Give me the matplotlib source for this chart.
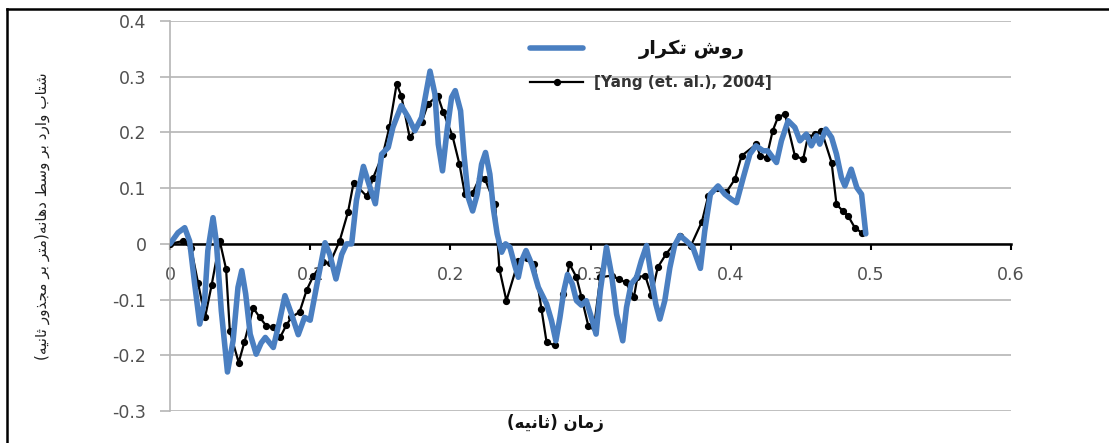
import numpy as np
import matplotlib
matplotlib.use('Agg')
import matplotlib.pyplot as plt
from matplotlib.lines import Line2D

# time (s) and mid-span acceleration
t_yang = [0.000, 0.009, 0.015, 0.020, 0.025, 0.0297, 0.0355, 0.040, 0.0427, 0.049,
          0.053, 0.0594, 0.064, 0.0687, 0.0735, 0.0785, 0.083, 0.0866, 0.0925, 0.0975,
          0.1022, 0.109, 0.114, 0.121, 0.127, 0.131, 0.1405, 0.145, 0.152, 0.1565,
          0.1617, 0.165, 0.171, 0.1795, 0.184, 0.191, 0.195, 0.2015, 0.2065, 0.2104,
          0.216, 0.221, 0.2247, 0.232, 0.235, 0.240, 0.2485, 0.2544, 0.260, 0.265,
          0.2687, 0.2746, 0.2806, 0.285, 0.290, 0.2935, 0.2985, 0.3025, 0.307, 0.315,
          0.320, 0.325, 0.331, 0.3335, 0.339, 0.3435, 0.348, 0.354, 0.364, 0.3715,
          0.3795, 0.384, 0.390, 0.397, 0.403, 0.4078, 0.4184, 0.421, 0.4256, 0.430,
          0.4337, 0.4387, 0.4458, 0.4517, 0.455, 0.460, 0.4648, 0.472, 0.4755, 0.480,
          0.4838, 0.4886, 0.4934]
a_yang = [0.000, 0.005, -0.007, -0.070, -0.132, -0.074, 0.005, -0.045, -0.157, -0.213,
          -0.177, -0.115, -0.132, -0.147, -0.150, -0.168, -0.146, -0.132, -0.122, -0.083,
          -0.058, -0.033, -0.035, 0.005, 0.057, 0.110, 0.085, 0.119, 0.162, 0.209,
          0.287, 0.266, 0.191, 0.218, 0.251, 0.266, 0.236, 0.194, 0.143, 0.089,
          0.092, 0.119, 0.116, 0.071, -0.045, -0.102, -0.031, -0.025, -0.036, -0.117,
          -0.177, -0.182, -0.090, -0.036, -0.060, -0.095, -0.148, -0.150, -0.060, -0.057,
          -0.063, -0.069, -0.095, -0.060, -0.057, -0.092, -0.042, -0.018, 0.014, -0.004,
          0.040, 0.086, 0.101, 0.093, 0.116, 0.158, 0.179, 0.158, 0.155, 0.203,
          0.227, 0.233, 0.158, 0.152, 0.191, 0.197, 0.203, 0.146, 0.071, 0.059,
          0.050, 0.029, 0.020]

t_iter = [0.000, 0.0057, 0.0105, 0.014, 0.0176, 0.0212, 0.0247, 0.027, 0.0307, 0.033,
          0.0366, 0.041, 0.045, 0.0485, 0.0512, 0.054, 0.0572, 0.0615, 0.065, 0.068,
          0.0737, 0.078, 0.082, 0.0865, 0.0915, 0.096, 0.100, 0.1058, 0.1106, 0.114,
          0.1184, 0.1225, 0.126, 0.1296, 0.133, 0.138, 0.1427, 0.1465, 0.151, 0.1557,
          0.159, 0.165, 0.170, 0.1747, 0.1795, 0.1855, 0.189, 0.1914, 0.1944, 0.1975,
          0.2009, 0.2035, 0.2073, 0.2097, 0.2128, 0.2159, 0.2192, 0.2223, 0.2251, 0.2282,
          0.2306, 0.2334, 0.2366, 0.2394, 0.2425, 0.246, 0.2485, 0.2509, 0.254, 0.258,
          0.2628, 0.2687, 0.2722, 0.2753, 0.2782, 0.281, 0.2836, 0.287, 0.290, 0.2935,
          0.297, 0.3006, 0.304, 0.307, 0.3114, 0.315, 0.3186, 0.323, 0.3257, 0.329,
          0.3329, 0.3363, 0.340, 0.3435, 0.3466, 0.3495, 0.353, 0.3566, 0.360, 0.3638,
          0.3685, 0.373, 0.3784, 0.3815, 0.3855, 0.391, 0.3959, 0.4005, 0.4042, 0.409,
          0.4137, 0.418, 0.4232, 0.4265, 0.4327, 0.4362, 0.441, 0.4458, 0.4494, 0.454,
          0.4576, 0.4612, 0.4636, 0.4679, 0.472, 0.4755, 0.479, 0.4815, 0.486, 0.490,
          0.4934, 0.4957, 0.4964]
a_iter = [0.000, 0.020, 0.029, 0.005, -0.072, -0.144, -0.102, -0.012, 0.047, 0.005,
          -0.120, -0.230, -0.174, -0.078, -0.048, -0.090, -0.162, -0.198, -0.178, -0.168,
          -0.186, -0.140, -0.093, -0.125, -0.163, -0.132, -0.137, -0.060, 0.002, -0.019,
          -0.063, -0.019, 0.000, 0.000, 0.078, 0.139, 0.101, 0.072, 0.161, 0.173,
          0.209, 0.248, 0.227, 0.203, 0.227, 0.310, 0.269, 0.179, 0.131, 0.200,
          0.263, 0.275, 0.239, 0.161, 0.083, 0.059, 0.089, 0.143, 0.164, 0.125,
          0.065, 0.018, -0.015, 0.000, -0.006, -0.039, -0.060, -0.030, -0.012, -0.036,
          -0.078, -0.108, -0.138, -0.174, -0.132, -0.084, -0.055, -0.072, -0.102, -0.110,
          -0.102, -0.132, -0.162, -0.084, -0.006, -0.055, -0.126, -0.174, -0.114, -0.072,
          -0.060, -0.030, -0.003, -0.060, -0.108, -0.135, -0.102, -0.043, -0.003, 0.015,
          0.005, -0.006, -0.044, 0.023, 0.089, 0.104, 0.089, 0.080, 0.074, 0.119,
          0.161, 0.176, 0.167, 0.167, 0.146, 0.185, 0.221, 0.209, 0.185, 0.197,
          0.176, 0.194, 0.179, 0.206, 0.191, 0.161, 0.119, 0.104, 0.134, 0.101,
          0.089, 0.035, 0.018]

x_ticks = [0, 0.1, 0.2, 0.3, 0.4, 0.5, 0.6]
y_ticks = [-0.3, -0.2, -0.1, 0, 0.1, 0.2, 0.3, 0.4]

label_iter = 'روش تکرار'
label_yang = '[Yang (et. al.), 2004]'
x_title = 'زمان (ثانیه)'
y_title = 'شتاب وارد بر وسط دهانه(متر بر مجذور ثانیه)'

# matplotlib has no arabic shaping, so pick the joined glyph forms by hand
# (isolated, final, initial, medial)
FORMS = {
    'ا': ('\uFE8D', '\uFE8E'),
    'ب': ('\uFE8F', '\uFE90', '\uFE91', '\uFE92'),
    'ت': ('\uFE95', '\uFE96', '\uFE97', '\uFE98'),
    'ث': ('\uFE99', '\uFE9A', '\uFE9B', '\uFE9C'),
    'ج': ('\uFE9D', '\uFE9E', '\uFE9F', '\uFEA0'),
    'د': ('\uFEA9', '\uFEAA'),
    'ذ': ('\uFEAB', '\uFEAC'),
    'ر': ('\uFEAD', '\uFEAE'),
    'ز': ('\uFEAF', '\uFEB0'),
    'س': ('\uFEB1', '\uFEB2', '\uFEB3', '\uFEB4'),
    'ش': ('\uFEB5', '\uFEB6', '\uFEB7', '\uFEB8'),
    'ط': ('\uFEC1', '\uFEC2', '\uFEC3', '\uFEC4'),
    'م': ('\uFEE1', '\uFEE2', '\uFEE3', '\uFEE4'),
    'ن': ('\uFEE5', '\uFEE6', '\uFEE7', '\uFEE8'),
    'ه': ('\uFEE9', '\uFEEA', '\uFEEB', '\uFEEC'),
    'و': ('\uFEED', '\uFEEE'),
    'ی': ('\uFBFC', '\uFBFD', '\uFBFE', '\uFBFF'),
    'ک': ('\uFB8E', '\uFB8F', '\uFB90', '\uFB91'),
}


def shape_fa(s):
    out = []
    for i, ch in enumerate(s):
        f = FORMS.get(ch)
        if f is None:
            out.append(ch)
            continue
        prev = s[i - 1] if i > 0 else ''
        nxt = s[i + 1] if i + 1 < len(s) else ''
        join_prev = prev in FORMS and len(FORMS[prev]) == 4
        join_next = len(f) == 4 and nxt in FORMS
        if join_prev and join_next:
            out.append(f[3])
        elif join_prev:
            out.append(f[1])
        elif join_next:
            out.append(f[2])
        else:
            out.append(f[0])
    # right-to-left: reverse to visual order and mirror the brackets
    vis = ''.join(reversed(out))
    return vis.translate(str.maketrans('()', ')('))


fig = plt.figure(figsize=(11.09, 4.43), dpi=100)
ax = fig.add_axes([170 / 1109, 1 - 411 / 443, 841 / 1109, 390 / 443])

h_yang, = ax.plot(t_yang, a_yang, '-o', color='black', lw=1.6, ms=4.2,
                  label=label_yang, zorder=3)
h_iter, = ax.plot(t_iter, a_iter, '-', color='#4a7fc1', lw=4.0,
                  solid_capstyle='round', solid_joinstyle='round',
                  label=shape_fa(label_iter), zorder=4)

ax.set_xlim(0, 0.6)
ax.set_ylim(-0.3, 0.4)
ax.set_xticks(x_ticks)
ax.set_xticklabels(['0', '0.1', '0.2', '0.3', '0.4', '0.5', '0.6'])
ax.set_yticks(y_ticks)
ax.set_yticklabels(['-0.3', '-0.2', '-0.1', '0', '0.1', '0.2', '0.3', '0.4'])

ax.grid(axis='y', color='#b5b5b5', lw=1.2)
ax.set_axisbelow(True)
for s in ['top', 'right']:
    ax.spines[s].set_visible(False)
ax.spines['left'].set_color('#b5b5b5')
ax.spines['left'].set_linewidth(1.2)
ax.spines['bottom'].set_position(('data', 0))
ax.spines['bottom'].set_linewidth(1.8)
ax.spines['bottom'].set_zorder(2)

ax.tick_params(axis='y', length=7, width=1.2, color='#b5b5b5', pad=10,
               labelsize=12.5, labelcolor='#505050')
ax.tick_params(axis='x', length=4, width=1.5, color='black', pad=12,
               labelsize=12.5, labelcolor='#505050')

ax.set_ylabel(shape_fa(y_title), fontsize=11, color='#222222')
ax.yaxis.set_label_coords(-0.143, 0.5)
fig.text(555 / 1109, 1 - 423 / 443, shape_fa(x_title), fontsize=12,
         fontweight='bold', ha='center', va='center', color='#111111')

leg = ax.legend(handles=[h_iter, h_yang], loc='upper left',
                bbox_to_anchor=(0.428, 0.955), frameon=False,
                borderpad=0, borderaxespad=0, handlelength=3.5,
                handletextpad=0.7, labelspacing=1.1,
                prop={'weight': 'bold', 'size': 11})
leg.get_texts()[0].set_fontsize(14)
leg.get_texts()[0].set_x(45)
leg.get_texts()[0].set_color('#111111')
leg.get_texts()[1].set_color('#333333')

# page frame (top and left edges)
fig.add_artist(Line2D([7 / 1109, 1], [1 - 9 / 443, 1 - 9 / 443], color='black', lw=1.8))
fig.add_artist(Line2D([7 / 1109, 7 / 1109], [0, 1 - 9 / 443], color='black', lw=1.8))

fig.savefig('out.png', dpi=100)
